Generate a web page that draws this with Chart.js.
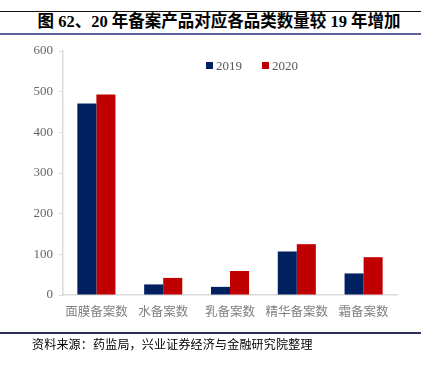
<!DOCTYPE html>
<html>
<head>
<meta charset="utf-8">
<script src="https://cdn.jsdelivr.net/npm/chart.js@4"></script>
<style>
  body { margin: 0; background: #fff; }
  #wrap { position: relative; width: 431px; height: 370px; overflow: hidden; }
  #chart { position: absolute; left: 0; top: 0; }
  .rule { position: absolute; left: 0; width: 421px; }
  #title {
    position: absolute; left: 0; width: 438px; top: 11px; text-align: center;
    font: bold 16.5px "Liberation Serif", "Noto Sans CJK SC"; color: #000; line-height: 22px;
  }
  #source {
    position: absolute; left: 32px; top: 335px;
    font: 12px "Noto Sans CJK SC"; color: #000; letter-spacing: 0.2px; line-height: 18px;
  }
  #legend { position: absolute; top: 58px; left: 206px; font: 13px "Liberation Serif"; color: #595959; }
  #legend span.item { position: absolute; white-space: nowrap; line-height: 16px; }
  #legend i { display: inline-block; width: 7px; height: 7px; margin-right: 3px; vertical-align: 1px; }
</style>
</head>
<body>
<div id="wrap">
  <div class="rule" style="top:11px;height:1px;background:#111;"></div>
  <div id="title">图 62、20 年备案产品对应各品类数量较 19 年增加</div>
  <div class="rule" style="top:33px;height:2px;background:#5b5f9b;"></div>
  <canvas id="chart" width="431" height="370"></canvas>
  <div id="legend"></div>
  <div class="rule" style="top:332px;height:2px;background:#2b2d5e;"></div>
  <div id="source">资料来源：药监局，兴业证券经济与金融研究院整理</div>
</div>
<script>
const categories = ["面膜备案数", "水备案数", "乳备案数", "精华备案数", "霜备案数"];
const seriesNames = ["2019", "2020"];
const values2019 = [471, 26, 20, 107, 53];
const values2020 = [493, 42, 59, 125, 93];
const colors = ["#002060", "#C00000"];

// html legend, placed inside the plot like the original
const legend = document.getElementById("legend");
seriesNames.forEach((name, i) => {
  const s = document.createElement("span");
  s.className = "item";
  s.style.left = (i * 56) + "px";
  s.innerHTML = '<i style="background:' + colors[i] + '"></i>' + name;
  legend.appendChild(s);
});

const ctx = document.getElementById("chart");

new Chart(ctx, {
  type: "bar",
  data: {
    labels: categories,
    datasets: [
      { label: seriesNames[0], data: values2019, backgroundColor: colors[0] },
      { label: seriesNames[1], data: values2020, backgroundColor: colors[1] },
    ],
  },
  options: {
    responsive: false,
    animation: false,
    layout: { padding: { top: 51, right: 34, bottom: 45, left: 0 } },
    datasets: { bar: { categoryPercentage: 0.57, barPercentage: 1.0 } },
    plugins: { legend: { display: false }, tooltip: { enabled: false } },
    scales: {
      x: {
        grid: { display: false, drawTicks: false },
        border: { color: "#d9d9d9", width: 1.5 },
        ticks: { color: "#7f7f7f", padding: 9, font: { family: "Noto Sans CJK SC", size: 12.5 }, maxRotation: 0 },
        afterFit: (s) => { s.height = 30; },
      },
      y: {
        min: 0,
        max: 600,
        grid: { drawOnChartArea: false, tickLength: 4, color: "#d9d9d9" },
        border: { color: "#d9d9d9", width: 1.5 },
        ticks: { stepSize: 100, color: "#666666", padding: 6, font: { family: "Liberation Serif", size: 13 } },
        afterFit: (s) => { s.width = 63; },
      },
    },
  },
});
</script>
</body>
</html>
